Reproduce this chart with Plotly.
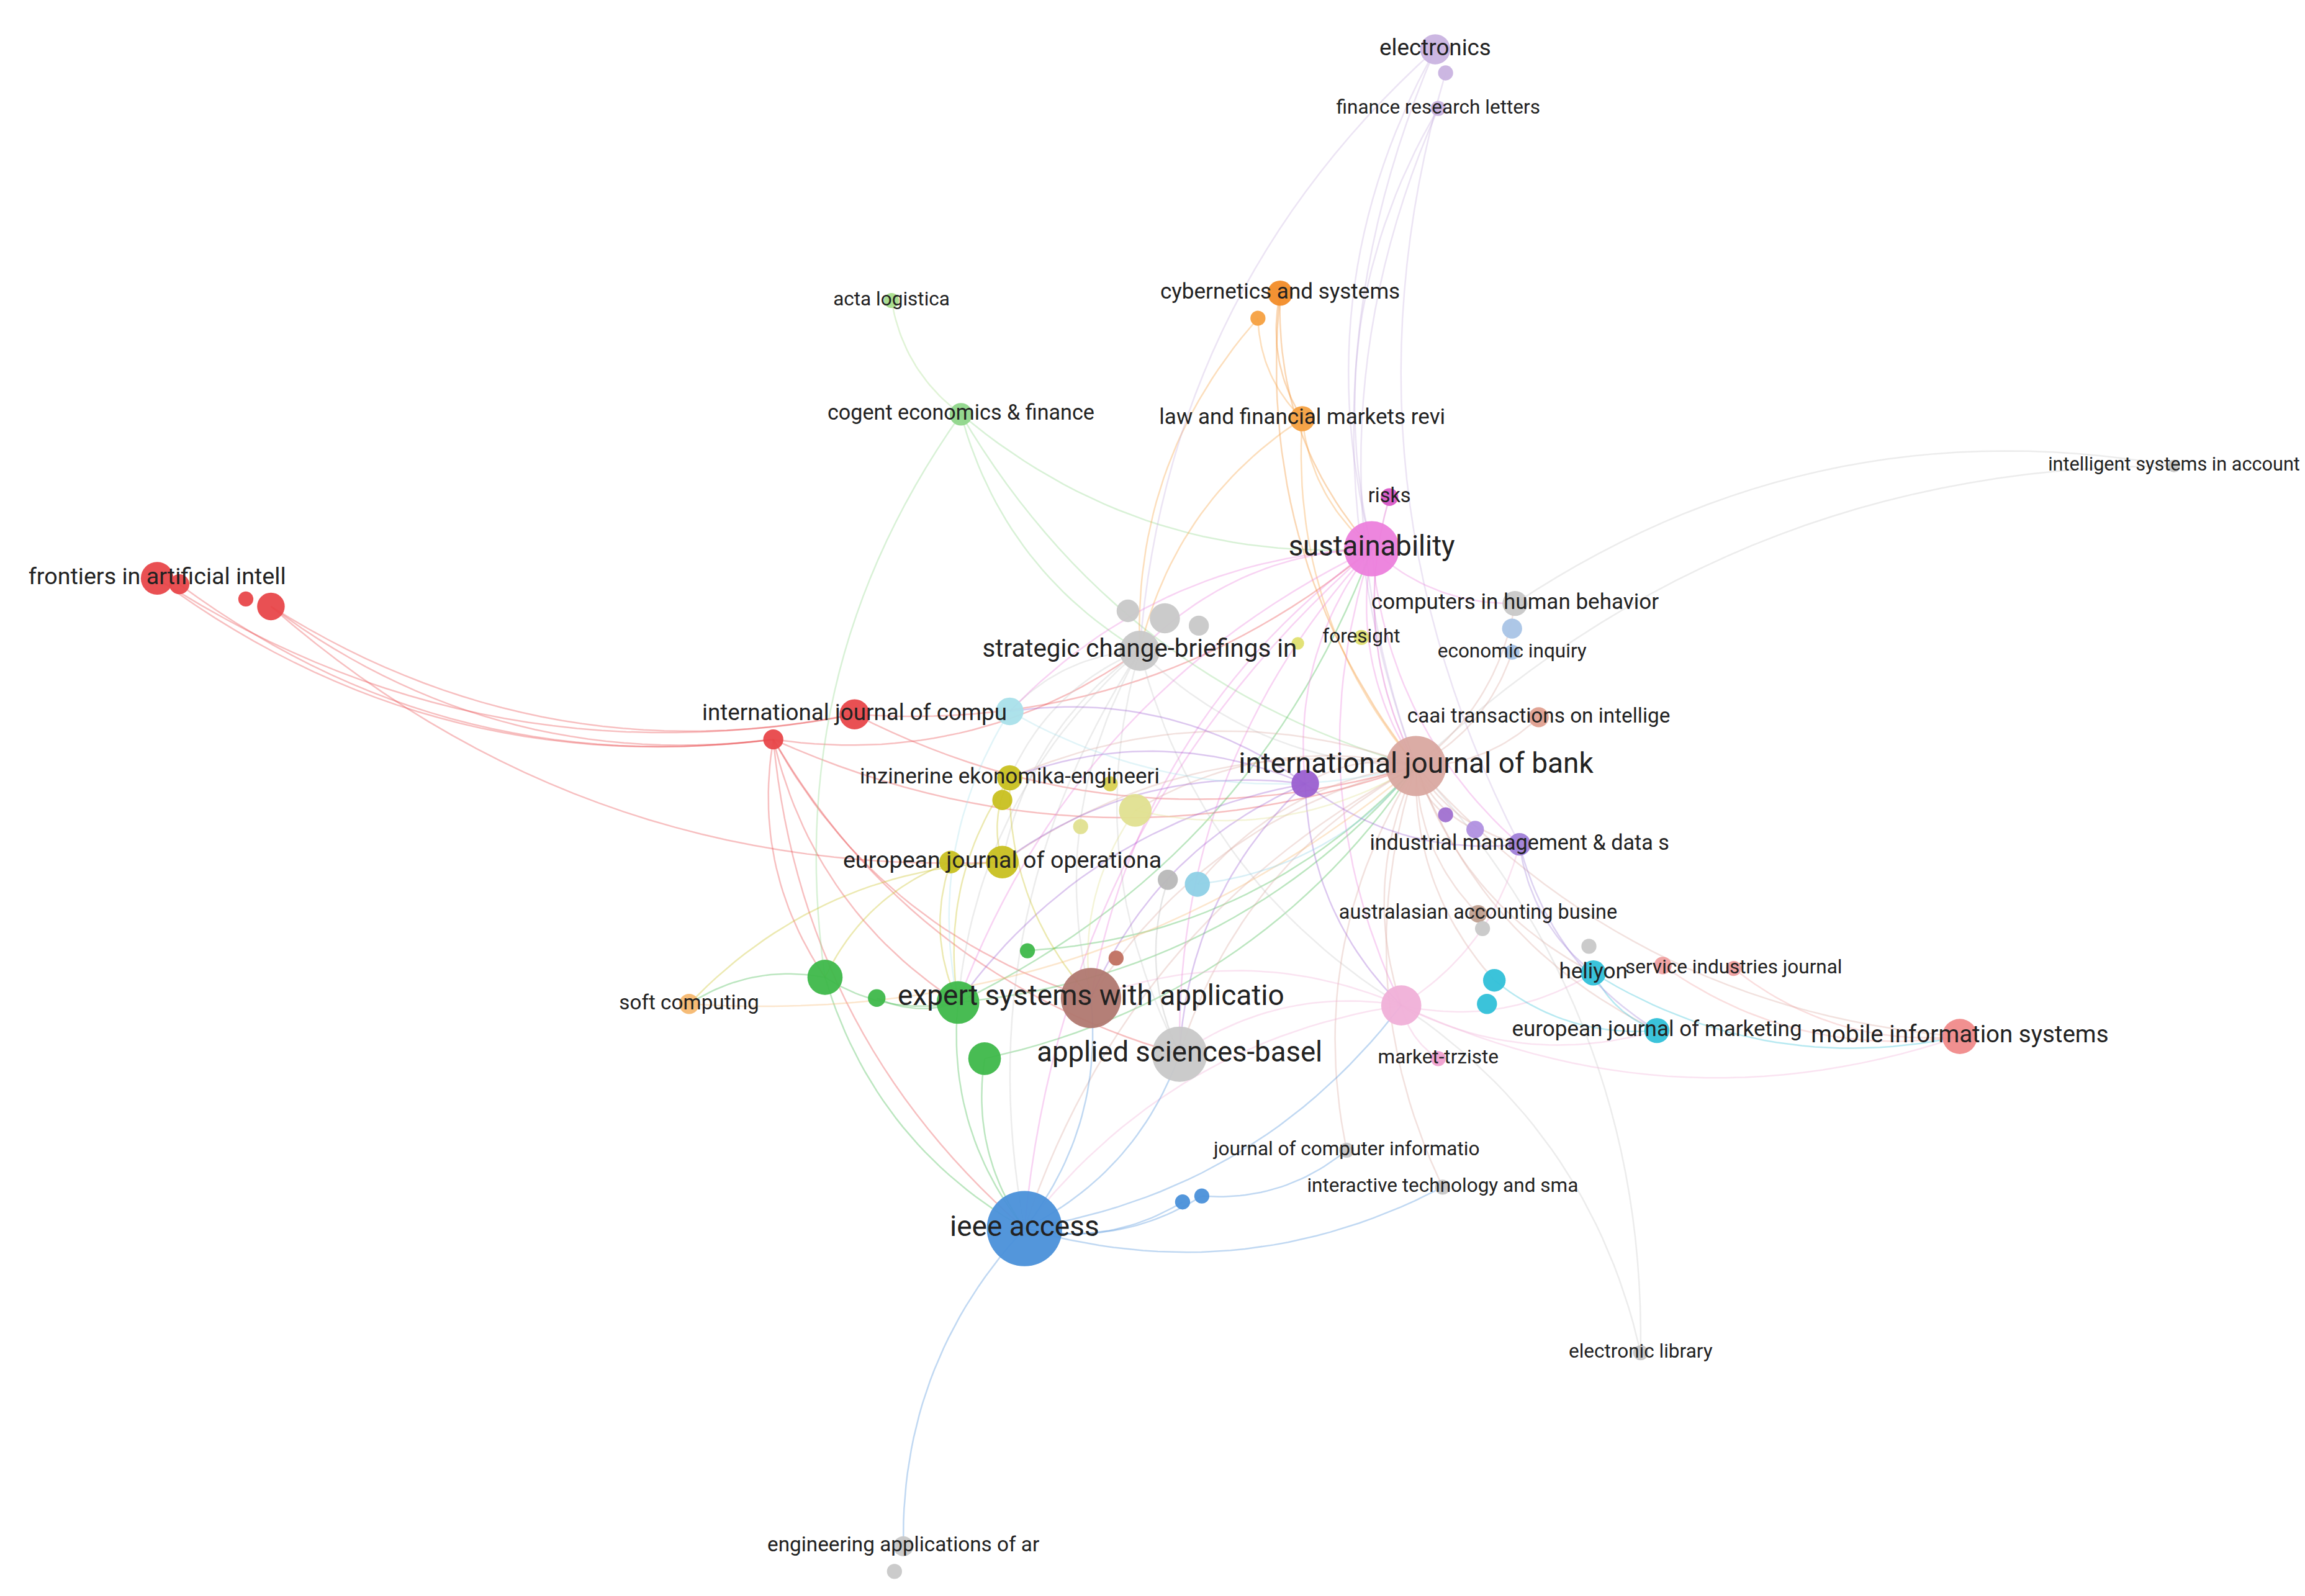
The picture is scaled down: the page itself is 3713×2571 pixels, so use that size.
import numpy as np
import plotly.graph_objects as go

labels = ["electronics","","finance research letters","cybernetics and systems","","law and financial markets revi",
"acta logistica","cogent economics & finance","intelligent systems in account","frontiers in artificial intell","","","",
"risks","sustainability","computers in human behavior","","strategic change-briefings in","","","",
"foresight","","economic inquiry","international journal of compu","","","caai transactions on intellige",
"international journal of bank","","inzinerine ekonomika-engineeri","","","","","industrial management & data s","","",
"","european journal of operationa","","","australasian accounting busine","","soft computing","","","",
"expert systems with applicatio","","","heliyon","","service industries journal","","","","","applied sciences-basel","",
"european journal of marketing","mobile information systems","market-trziste","journal of computer informatio","","",
"interactive technology and sma","ieee access","electronic library","engineering applications of ar",""]
xs = [968,975,970,863,848,878,600,647,1468,103,118,180,163,937,925,1022,1020,768,760,785,808,918,875,1020,575,680,520,1038,
955,880,680,675,765,748,728,1025,975,995,640,675,787,807,997,1000,463,555,590,645,735,752,692,1075,1122,1170,1072,1008,1003,
945,795,663,1118,1323,970,908,797,810,973,690,1107,608,602]
ys = [30,46,70,195,212,280,200,277,312,388,392,407,402,333,368,405,422,437,410,415,420,428,432,438,480,478,497,482,
515,527,523,538,545,527,556,568,548,558,580,580,592,595,615,625,676,658,672,675,672,645,640,655,650,652,637,660,676,
677,710,713,694,698,713,775,810,806,800,828,912,1043,1060]
radii = [12,6,6,10,6,10,6,9,5,13,8,11,6,7,22,10,8,16,9,12,8,6,5,6,12,11,8,8,24,11,10,8,13,6,6,9,6,7,9,13,8,10,7,6,8,
14,7,17,24,6,6,10,7,6,6,9,8,16,22,13,10,14,6,6,6,6,6,30,6,8,6]
colors = ["#c9b3e0","#c9b3e0","#c9b3e0","#f28c28","#f5a040","#f5a040","#a6dc8a","#8fd68a","#c8c8c8","#e8474a","#e8474a",
"#e8474a","#e8474a","#d957c7","#ec80dc","#c8c8c8","#a9c4e6","#c8c8c8","#c8c8c8","#c8c8c8","#c8c8c8","#e0e070","#e0e070",
"#a9c4e6","#e8474a","#a9e0ea","#e8474a","#e0a090","#d9a8a0","#9a5fd0","#c8c020","#c8c020","#e0e090","#d8d050","#e0e090",
"#a080d8","#a070d0","#b090e0","#c8c020","#c8c020","#b8b8b8","#8ed0e6","#c0a090","#c8c8c8","#f5b870","#3eb84a","#3eb84a",
"#3eb84a","#b07870","#c07060","#3eb84a","#30c0d8","#f0a0a0","#f0a0a0","#c8c8c8","#30c0d8","#30c0d8","#f0b0d8","#c8c8c8",
"#3eb84a","#30c0d8","#f08a8a","#f0a0d0","#c8c8c8","#4a90d9","#4a90d9","#c8c8c8","#4a90d9","#c8c8c8","#c8c8c8","#c8c8c8"]
edges = [(11,26),(11,24),(9,26),(11,39),(10,26),(9,24),(26,45),(26,47),(26,67),(26,17),(26,28),(24,28),(24,14),(26,58),(26,48),
(6,7),(7,17),(7,28),(7,14),(7,45),(45,47),(45,67),(46,47),(47,67),(59,67),(47,28),(47,14),(45,44),(50,28),(59,28),
(3,5),(4,5),(3,14),(5,14),(5,17),(5,28),(3,28),(4,17),(0,14),(0,28),(2,14),(2,28),(1,35),(0,17),(8,15),(8,28),
(14,17),(14,28),(14,29),(14,47),(14,48),(14,58),(14,57),(14,35),(14,67),(13,28),(14,15),(14,25),
(17,28),(17,47),(17,48),(17,58),(17,67),(17,30),(17,39),(17,25),(17,57),
(28,29),(28,35),(28,36),(28,37),(28,42),(28,51),(28,55),(28,57),(28,48),(28,58),(28,67),(28,60),(28,61),(28,30),(28,39),
(28,32),(28,41),(28,27),(28,23),(28,15),(28,63),(28,66),
(29,47),(29,48),(29,58),(29,39),(29,30),(29,25),(29,57),(29,35),
(57,51),(57,60),(57,61),(57,62),(57,67),(57,58),(57,48),(57,35),(51,60),(51,61),(55,60),(53,61),(52,61),(35,51),(35,60),
(67,64),(67,65),(65,63),(67,58),(67,48),(67,69),(67,66),(67,57),(68,57),(68,28),
(30,39),(30,48),(30,47),(32,28),(32,48),(38,47),(38,45),(39,44),(44,28),(41,28),(40,58),(25,28),(25,47)]

S = 3713 / 1560.0
fig = go.Figure()

def hexrgba(h, a):
    h = h.lstrip("#")
    return "rgba(%d,%d,%d,%.2f)" % (int(h[0:2], 16), int(h[2:4], 16), int(h[4:6], 16), a)

groups = {}
t = np.linspace(0, 1, 30)
for a, b in edges:
    x0, y0, x1, y1 = xs[a], ys[a], xs[b], ys[b]
    mx, my = (x0 + x1) / 2, (y0 + y1) / 2
    dx, dy = x1 - x0, y1 - y0
    cx, cy = mx - dy * 0.2, my + dx * 0.2
    bx = (1 - t) ** 2 * x0 + 2 * (1 - t) * t * cx + t ** 2 * x1
    by = (1 - t) ** 2 * y0 + 2 * (1 - t) * t * cy + t ** 2 * y1
    g = groups.setdefault(colors[a], ([], []))
    g[0].extend(list(bx) + [None]); g[1].extend(list(by) + [None])
for c, (gx, gy) in groups.items():
    fig.add_trace(go.Scatter(x=gx, y=gy, mode="lines", line=dict(color=hexrgba(c, 0.35), width=2.5),
                             hoverinfo="skip", showlegend=False))

order = np.argsort(radii)[::-1]
fig.add_trace(go.Scatter(x=[xs[i] for i in order], y=[ys[i] for i in order], mode="markers",
    marker=dict(size=[1.7 * radii[i] * S for i in order], color=[colors[i] for i in order], opacity=0.95,
                line=dict(width=0)), showlegend=False, hoverinfo="skip"))
fsz = [min(21, 12 + r * 0.4) * S * 0.92 for r in radii]
fig.add_trace(go.Scatter(x=xs, y=ys, mode="text", text=labels, textposition="middle center",
    textfont=dict(family="Liberation Sans Narrow, Roboto, sans-serif", size=fsz, color="#222222"),
    showlegend=False, hoverinfo="skip"))

fig.update_xaxes(range=[0, 1560], visible=False)
fig.update_yaxes(range=[1080, 0], visible=False)
fig.update_layout(width=3713, height=2571, margin=dict(l=0, r=0, t=0, b=0),
                  plot_bgcolor="white", paper_bgcolor="white")
fig.write_html("out.html")
